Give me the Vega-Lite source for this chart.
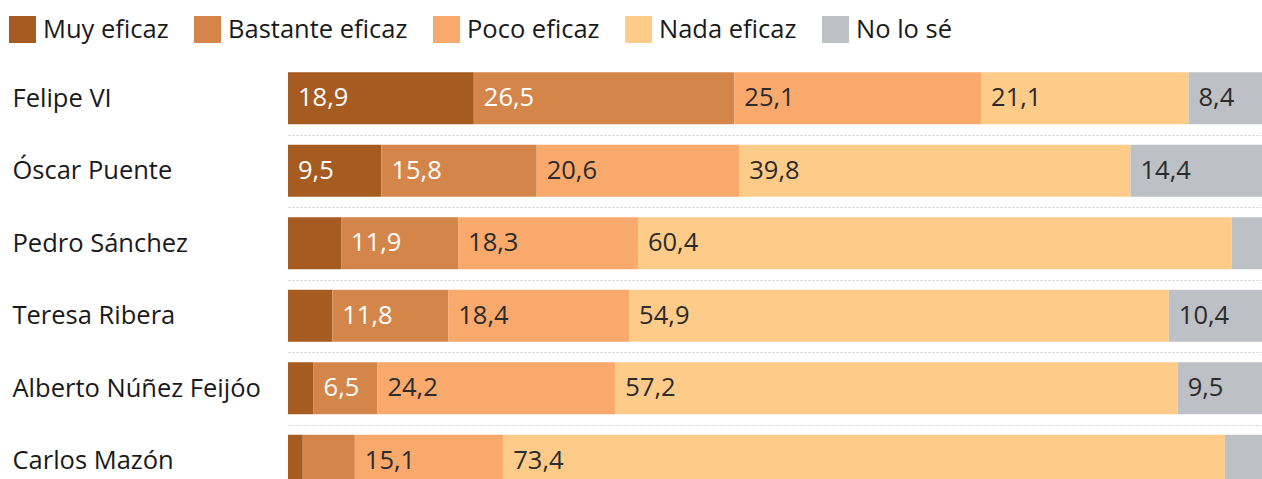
{
  "$schema": "https://vega.github.io/schema/vega-lite/v6.json",
  "autosize": {"type": "none"},
  "width": 974,
  "height": 417,
  "padding": {"left": 288, "top": 62, "right": 0, "bottom": 0},
  "background": "white",
  "config": {
    "view": {"stroke": null},
    "font": "Open Sans",
    "locale": {"number": {"decimal": ",", "thousands": ".", "grouping": [3], "currency": ["", " €"]}}
  },
  "data": {
    "values": [
      {"name": "Felipe VI", "cat": "Muy eficaz", "k": 1, "value": 18.9},
      {"name": "Felipe VI", "cat": "Bastante eficaz", "k": 2, "value": 26.5},
      {"name": "Felipe VI", "cat": "Poco eficaz", "k": 3, "value": 25.1},
      {"name": "Felipe VI", "cat": "Nada eficaz", "k": 4, "value": 21.1},
      {"name": "Felipe VI", "cat": "No lo sé", "k": 5, "value": 8.4},
      {"name": "Óscar Puente", "cat": "Muy eficaz", "k": 1, "value": 9.5},
      {"name": "Óscar Puente", "cat": "Bastante eficaz", "k": 2, "value": 15.8},
      {"name": "Óscar Puente", "cat": "Poco eficaz", "k": 3, "value": 20.6},
      {"name": "Óscar Puente", "cat": "Nada eficaz", "k": 4, "value": 39.8},
      {"name": "Óscar Puente", "cat": "No lo sé", "k": 5, "value": 14.4},
      {"name": "Pedro Sánchez", "cat": "Muy eficaz", "k": 1, "value": 5.4},
      {"name": "Pedro Sánchez", "cat": "Bastante eficaz", "k": 2, "value": 11.9},
      {"name": "Pedro Sánchez", "cat": "Poco eficaz", "k": 3, "value": 18.3},
      {"name": "Pedro Sánchez", "cat": "Nada eficaz", "k": 4, "value": 60.4},
      {"name": "Pedro Sánchez", "cat": "No lo sé", "k": 5, "value": 4.0},
      {"name": "Teresa Ribera", "cat": "Muy eficaz", "k": 1, "value": 4.5},
      {"name": "Teresa Ribera", "cat": "Bastante eficaz", "k": 2, "value": 11.8},
      {"name": "Teresa Ribera", "cat": "Poco eficaz", "k": 3, "value": 18.4},
      {"name": "Teresa Ribera", "cat": "Nada eficaz", "k": 4, "value": 54.9},
      {"name": "Teresa Ribera", "cat": "No lo sé", "k": 5, "value": 10.4},
      {"name": "Alberto Núñez Feijóo", "cat": "Muy eficaz", "k": 1, "value": 2.6},
      {"name": "Alberto Núñez Feijóo", "cat": "Bastante eficaz", "k": 2, "value": 6.5},
      {"name": "Alberto Núñez Feijóo", "cat": "Poco eficaz", "k": 3, "value": 24.2},
      {"name": "Alberto Núñez Feijóo", "cat": "Nada eficaz", "k": 4, "value": 57.2},
      {"name": "Alberto Núñez Feijóo", "cat": "No lo sé", "k": 5, "value": 9.5},
      {"name": "Carlos Mazón", "cat": "Muy eficaz", "k": 1, "value": 1.5},
      {"name": "Carlos Mazón", "cat": "Bastante eficaz", "k": 2, "value": 5.3},
      {"name": "Carlos Mazón", "cat": "Poco eficaz", "k": 3, "value": 15.1},
      {"name": "Carlos Mazón", "cat": "Nada eficaz", "k": 4, "value": 73.4},
      {"name": "Carlos Mazón", "cat": "No lo sé", "k": 5, "value": 4.7}
    ]
  },
  "transform": [
    {"stack": "value", "groupby": ["name"], "sort": [{"field": "k", "order": "ascending"}], "as": ["x0", "x1"]}
  ],
  "encoding": {
    "y": {
      "field": "name",
      "type": "nominal",
      "sort": ["Felipe VI", "Óscar Puente", "Pedro Sánchez", "Teresa Ribera", "Alberto Núñez Feijóo", "Carlos Mazón"],
      "scale": {"range": [0, 435], "paddingInner": 0.283, "paddingOuter": 0.1415},
      "axis": {
        "title": null,
        "domain": false,
        "ticks": false,
        "grid": true,
        "gridDash": [2, 2],
        "gridColor": "#cfcfcf",
        "gridWidth": 1,
        "bandPosition": 0.5,
        "tickOffset": 36.25,
        "labelOffset": -36.25,
        "labelAlign": "left",
        "labelPadding": 276,
        "labelFontSize": 25.5,
        "labelColor": "#1a1a1a",
        "labelLimit": 300,
        "labelFont": "Open Sans"
      }
    }
  },
  "layer": [
    {
      "mark": {"type": "bar"},
      "encoding": {
        "x": {"field": "x0", "type": "quantitative", "scale": {"domain": [0, 99.08], "nice": false, "zero": false}, "axis": null},
        "x2": {"field": "x1"},
        "color": {
          "field": "cat",
          "type": "nominal",
          "scale": {
            "domain": ["Muy eficaz", "Bastante eficaz", "Poco eficaz", "Nada eficaz", "No lo sé"],
            "range": ["#a65b21", "#d4864a", "#f9a96b", "#fecb89", "#bdc1c5"]
          },
          "legend": {
            "title": null,
            "orient": "none",
            "legendX": -279,
            "legendY": -46,
            "direction": "horizontal",
            "symbolType": "square",
            "symbolSize": 729,
            "symbolStrokeWidth": 0,
            "labelFontSize": 25.5,
            "labelFont": "Open Sans",
            "labelColor": "#1a1a1a",
            "labelOffset": 7,
            "columnPadding": 25,
            "labelLimit": 300
          }
        }
      }
    },
    {
      "transform": [{"filter": "datum.value >= 6"}],
      "mark": {"type": "text", "align": "left", "baseline": "middle", "dx": 10, "fontSize": 25.5, "font": "Open Sans"},
      "encoding": {
        "x": {"field": "x0", "type": "quantitative"},
        "text": {"field": "value", "type": "quantitative", "format": ".1f"},
        "color": {
          "condition": {"test": "datum.cat === 'Muy eficaz' || datum.cat === 'Bastante eficaz'", "value": "white"},
          "value": "#2b2b2b"
        }
      }
    }
  ]
}
